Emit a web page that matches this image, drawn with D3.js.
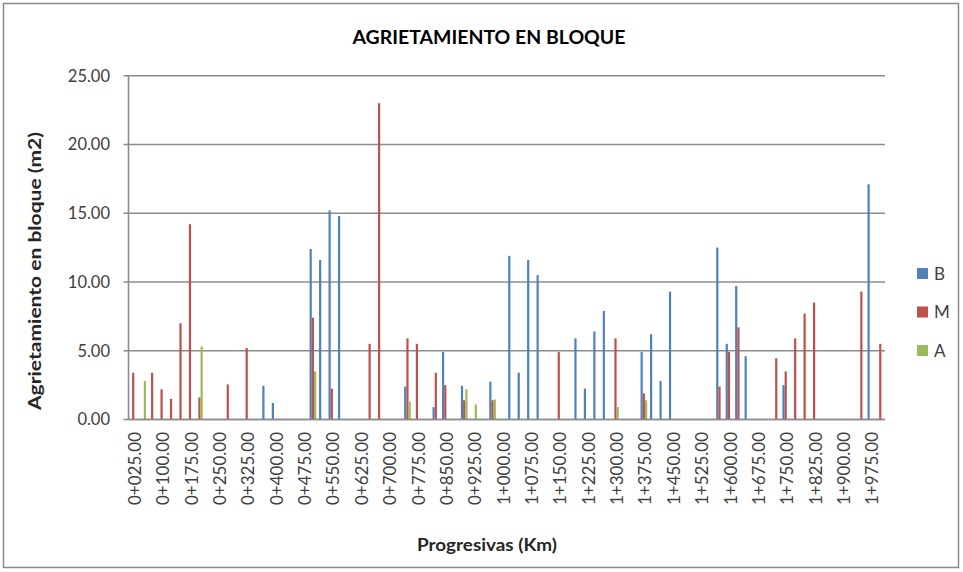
<!DOCTYPE html>
<html>
<head>
<meta charset="utf-8">
<script src="https://cdn.jsdelivr.net/npm/d3@7"></script>
<style>
  html, body { margin: 0; padding: 0; background: #fff; }
  svg { display: block; font-family: Lato, "Open Sans", "DejaVu Sans", sans-serif; }
</style>
</head>
<body>
<svg id="chart" width="963" height="572"></svg>
<script>
// Stations (progresivas), one every 25 m
const progresivas = [
  "0+025.00","0+050.00","0+075.00","0+100.00","0+125.00","0+150.00","0+175.00","0+200.00","0+225.00","0+250.00",
  "0+275.00","0+300.00","0+325.00","0+350.00","0+375.00","0+400.00","0+425.00","0+450.00","0+475.00","0+500.00",
  "0+525.00","0+550.00","0+575.00","0+600.00","0+625.00","0+650.00","0+675.00","0+700.00","0+725.00","0+750.00",
  "0+775.00","0+800.00","0+825.00","0+850.00","0+875.00","0+900.00","0+925.00","0+950.00","0+975.00","1+000.00",
  "1+025.00","1+050.00","1+075.00","1+100.00","1+125.00","1+150.00","1+175.00","1+200.00","1+225.00","1+250.00",
  "1+275.00","1+300.00","1+325.00","1+350.00","1+375.00","1+400.00","1+425.00","1+450.00","1+475.00","1+500.00",
  "1+525.00","1+550.00","1+575.00","1+600.00","1+625.00","1+650.00","1+675.00","1+700.00","1+725.00","1+750.00",
  "1+775.00","1+800.00","1+825.00","1+850.00","1+875.00","1+900.00","1+925.00","1+950.00","1+975.00","2+000.00"
];

// Block cracking area (m2) by severity: B (baja), M (media), A (alta)
const valoresB = [
  null,null,null,null,null,null,null,null,null,null,
  null,null,null,null,2.45,1.2,null,null,null,12.4,
  11.6,15.2,14.8,null,null,null,null,null,null,2.4,
  null,null,0.9,4.9,null,2.45,null,null,2.75,null,
  11.9,3.4,11.6,10.5,null,null,null,5.9,2.25,6.4,
  7.9,null,null,null,4.9,6.2,2.8,9.3,null,null,
  null,null,12.5,5.5,9.7,4.6,null,null,null,2.5,
  null,null,null,null,null,null,null,null,17.1,null
];
const valoresM = [
  3.4,null,3.4,2.2,1.5,7.0,14.2,1.6,null,null,
  2.55,null,5.2,null,null,null,null,null,null,7.4,
  null,2.25,null,null,null,5.5,23.0,null,null,5.9,
  5.5,null,3.4,2.5,null,1.4,null,null,1.4,null,
  null,null,null,null,null,4.9,null,null,null,null,
  null,5.9,null,null,1.9,null,null,null,null,null,
  null,null,2.4,4.9,6.7,null,null,null,4.45,3.5,
  5.9,7.7,8.5,null,null,null,null,9.3,null,5.5
];
const valoresA = [
  null,2.8,null,null,null,null,null,5.3,null,null,
  null,null,null,null,null,null,null,null,null,3.5,
  null,null,null,null,null,null,null,null,null,1.3,
  null,null,null,null,null,2.2,1.1,null,1.45,null,
  null,null,null,null,null,null,null,null,null,null,
  null,0.9,null,null,1.4,null,null,null,null,null,
  null,null,null,null,null,null,null,null,null,null,
  null,null,null,null,null,null,null,null,null,null
];

const seriesNames = ["B", "M", "A"];
const seriesColors = ["#4F81BD", "#C0504D", "#9BBB59"];
const yTicks = [0, 5, 10, 15, 20, 25];

const series = [
  { name: seriesNames[0], values: valoresB, color: seriesColors[0] },
  { name: seriesNames[1], values: valoresM, color: seriesColors[1] },
  { name: seriesNames[2], values: valoresA, color: seriesColors[2] }
];

const svg = d3.select("#chart");
const plot = { left: 128.5, right: 885, top: 75.7, bottom: 419.5 };

// Outer chart frame
svg.append("rect")
  .attr("x", 3.5).attr("y", 3.5).attr("width", 955).attr("height", 564)
  .attr("fill", "#fff").attr("stroke", "#8a8a8a").attr("stroke-width", 1.5);

const x = d3.scaleBand().domain(progresivas).range([plot.left, plot.right]).paddingInner(0).paddingOuter(0);
const bw = x.bandwidth();
const x1 = d3.scaleBand().domain(seriesNames).range([bw * 0.15, bw * 0.85]);
const y = d3.scaleLinear().domain([0, 25]).range([plot.bottom, plot.top]);

// Horizontal gridlines with short ticks on the left
svg.append("g")
  .selectAll("line")
  .data(yTicks)
  .join("line")
  .attr("x1", plot.left - 5).attr("x2", plot.right)
  .attr("y1", d => y(d)).attr("y2", d => y(d))
  .attr("stroke", "#8c8c8c").attr("stroke-width", 1.6);

// Value axis line
svg.append("line")
  .attr("x1", plot.left).attr("x2", plot.left)
  .attr("y1", plot.top).attr("y2", plot.bottom)
  .attr("stroke", "#8c8c8c").attr("stroke-width", 1.6);

// Value axis labels
svg.append("g")
  .selectAll("text")
  .data(yTicks)
  .join("text")
  .attr("x", 110).attr("y", d => y(d)).attr("dy", "0.36em")
  .attr("text-anchor", "end")
  .attr("font-size", 16.5).attr("fill", "#404040")
  .text(d => d.toFixed(2));

// Bars
const barW = x1.bandwidth();
series.forEach(s => {
  svg.append("g")
    .attr("fill", s.color)
    .selectAll("rect")
    .data(progresivas.map((p, i) => ({ p, v: s.values[i] })).filter(d => d.v != null))
    .join("rect")
    .attr("x", d => x(d.p) + x1(s.name))
    .attr("y", d => y(d.v))
    .attr("width", barW)
    .attr("height", d => y(0) - y(d.v));
});

// Redraw baseline over bars
svg.append("line")
  .attr("x1", plot.left).attr("x2", plot.right)
  .attr("y1", y(0)).attr("y2", y(0))
  .attr("stroke", "#8c8c8c").attr("stroke-width", 1.6);

// Category labels, every third station, rotated
svg.append("g")
  .selectAll("text")
  .data(progresivas.filter((d, i) => i % 3 === 0))
  .join("text")
  .attr("transform", d => `translate(${x(d) + bw / 2 + 1.5},432) rotate(-90)`)
  .attr("dy", "0.36em")
  .attr("text-anchor", "end")
  .attr("font-size", 17).attr("fill", "#404040")
  .text(d => d);

// Titles
svg.append("text")
  .attr("x", 489).attr("y", 44)
  .attr("text-anchor", "middle")
  .attr("font-size", 18).attr("font-weight", "bold").attr("fill", "#000")
  .attr("textLength", 273).attr("lengthAdjust", "spacingAndGlyphs")
  .text("AGRIETAMIENTO EN BLOQUE");

svg.append("text")
  .attr("x", 487).attr("y", 551)
  .attr("text-anchor", "middle")
  .attr("font-size", 16.5).attr("font-weight", "bold").attr("fill", "#262626")
  .attr("textLength", 140).attr("lengthAdjust", "spacingAndGlyphs")
  .text("Progresivas (Km)");

svg.append("text")
  .attr("transform", "translate(41,271) rotate(-90)")
  .attr("text-anchor", "middle")
  .attr("font-size", 16.5).attr("font-weight", "bold").attr("fill", "#262626")
  .attr("textLength", 278).attr("lengthAdjust", "spacingAndGlyphs")
  .text("Agrietamiento en bloque (m2)");

// Legend
const legend = svg.append("g")
  .selectAll("g")
  .data(series)
  .join("g")
  .attr("transform", (d, i) => `translate(917,${268 + i * 38.5})`);
legend.append("rect")
  .attr("width", 11).attr("height", 11)
  .attr("fill", d => d.color);
legend.append("text")
  .attr("x", 17).attr("y", 5.5).attr("dy", "0.36em")
  .attr("font-size", 17).attr("fill", "#404040")
  .text(d => d.name);
</script>
</body>
</html>
